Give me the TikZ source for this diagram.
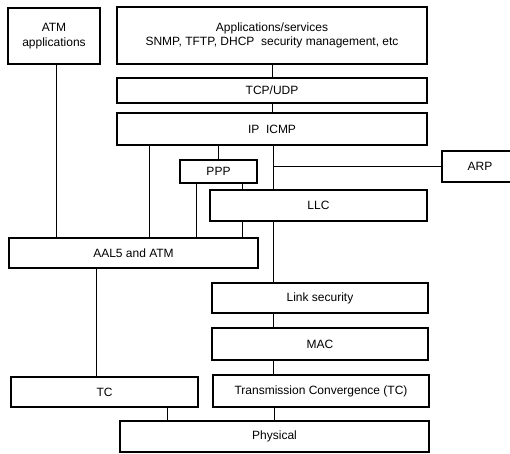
\documentclass[tikz,border=0pt]{standalone}
\usepackage{fontspec}
\setmainfont{Liberation Sans}
\usetikzlibrary{positioning}
\tikzset{layer/.style={draw, line width=1.1pt, inner sep=1pt, align=center, font=\fontsize{12}{14.5}\selectfont}}
\tikzstyle{link} = [line width=1pt]

\begin{document}
\begin{tikzpicture}[x=1pt, y=-1pt]
  \useasboundingbox (0,0) rectangle (510,453);

  % Upper stack
  \node[layer, minimum width=92pt, minimum height=56pt] (atmapp) at (54,36) {ATM\\applications};
  \node[layer, minimum width=310pt, minimum height=57pt] (apps) at (272,35.5) {Applications/services\\SNMP, TFTP, DHCP\ \ security management, etc};
  \node[layer, minimum width=310pt, minimum height=25pt] (tcp) at (272,90.5) {TCP/UDP};
  \node[layer, minimum width=310pt, minimum height=32pt] (ip) at (272,129) {IP\ \ ICMP};

  % Middle layers
  \node[layer, minimum width=77pt, minimum height=23pt] (ppp) at (218.5,171.5) {PPP};
  \node[layer, minimum width=76pt, minimum height=31pt] (arp) at (480,166.5) {ARP};
  \node[layer, minimum width=217pt, minimum height=31pt] (llc) at (318.5,205.5) {LLC};
  \node[layer, minimum width=249pt, minimum height=30pt] (aal) at (133.5,253) {AAL5 and ATM};

  % Lower stack
  \node[layer, minimum width=216pt, minimum height=30pt] (linksec) at (320,298) {Link security};
  \node[layer, minimum width=216pt, minimum height=32pt] (mac) at (320,344) {MAC};
  \node[layer, minimum width=216pt, minimum height=32pt] (tcr) at (321,391) {Transmission Convergence (TC)};
  \node[layer, minimum width=187pt, minimum height=30pt] (tcl) at (104.5,392) {TC};
  \node[layer, minimum width=309pt, minimum height=31pt] (phys) at (274.5,436.5) {Physical};

  % Column positions
  \coordinate (xatm) at (56,0);
  \coordinate (xip) at (149,0);
  \coordinate (xpppl) at (196,0);
  \coordinate (xpppr) at (242,0);
  \coordinate (xmain) at (273,0);
  \coordinate (xaal) at (96,0);
  \coordinate (xtc) at (167,0);

  % Connections
  \draw[link] (apps) -- (tcp);
  \draw[link] (tcp) -- (ip);
  \draw[link] (xatm |- atmapp.south) -- (xatm |- aal.north);
  \draw[link] (xip |- ip.south) -- (xip |- aal.north);
  \draw[link] (ip.south -| ppp.north) -- (ppp.north);
  \draw[link] (xmain |- ip.south) -- (xmain |- llc.north);
  \draw[link] (arp.west) -- (arp.west -| xmain);
  \draw[link] (xpppl |- ppp.south) -- (xpppl |- aal.north);
  \draw[link] (xpppr |- ppp.south) -- (xpppr |- llc.north);
  \draw[link] (xpppr |- llc.south) -- (xpppr |- aal.north);
  \draw[link] (xmain |- llc.south) -- (xmain |- linksec.north);
  \draw[link] (xaal |- aal.south) -- (xaal |- tcl.north);
  \draw[link] (linksec.south -| xmain) -- (mac.north -| xmain);
  \draw[link] (mac.south -| xmain) -- (tcr.north -| xmain);
  \draw[link] (xtc |- tcl.south) -- (xtc |- phys.north);
  \draw[link] (tcr.south -| phys.north) -- (phys.north);
\end{tikzpicture}
\end{document}
